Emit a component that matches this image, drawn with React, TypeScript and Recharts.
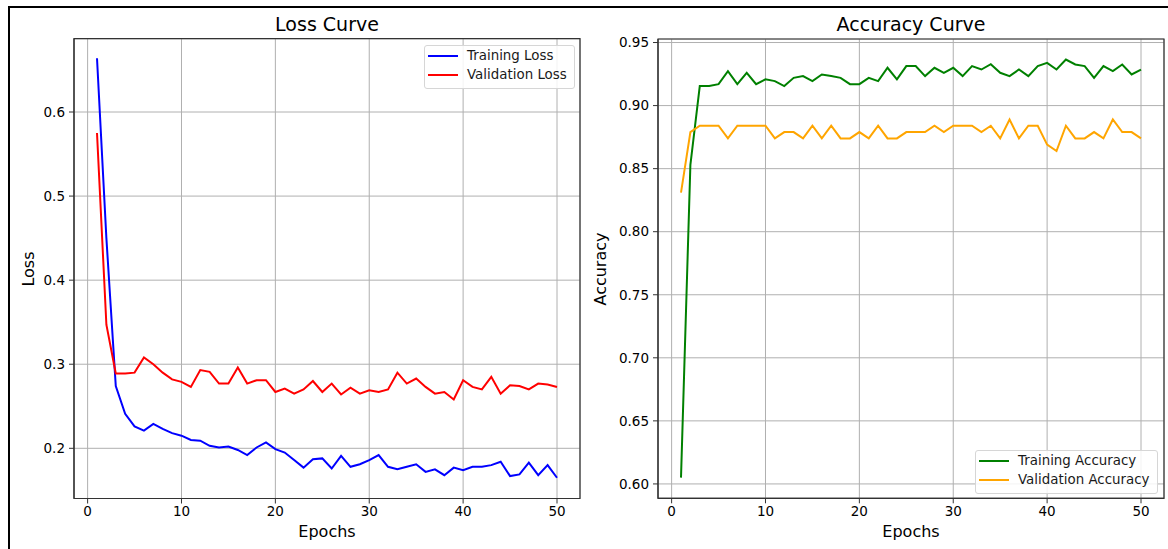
import React from 'react'
import { LineChart, Line, XAxis, YAxis, CartesianGrid, ReferenceArea, Legend } from 'recharts'

const epochs = Array.from({ length: 50 }, (_, i) => i + 1)

const trainLoss = [
  0.664, 0.45, 0.274, 0.241, 0.226, 0.221, 0.229, 0.223, 0.218, 0.215,
  0.21, 0.209, 0.203, 0.201, 0.202, 0.198, 0.192, 0.201, 0.207, 0.199,
  0.195, 0.186, 0.177, 0.187, 0.188, 0.176, 0.191, 0.178, 0.181, 0.186,
  0.192, 0.178, 0.175, 0.178, 0.181, 0.172, 0.175, 0.168, 0.177, 0.174,
  0.178, 0.178, 0.18, 0.184, 0.167, 0.169, 0.183, 0.168, 0.18, 0.165
]

const valLoss = [
  0.575, 0.347, 0.289, 0.289, 0.29, 0.308, 0.3, 0.29, 0.282, 0.279,
  0.273, 0.293, 0.291, 0.277, 0.277, 0.296, 0.277, 0.281, 0.281, 0.267,
  0.271, 0.265, 0.27, 0.28, 0.267, 0.277, 0.264, 0.272, 0.265, 0.269,
  0.267, 0.27, 0.29, 0.277, 0.283, 0.273, 0.265, 0.267, 0.258, 0.281,
  0.273, 0.27, 0.285, 0.265, 0.275, 0.274, 0.27, 0.277, 0.276, 0.273
]

const trainAcc = [
  0.605, 0.853, 0.9155, 0.9155, 0.917, 0.9273, 0.917, 0.926, 0.917, 0.9208,
  0.9194, 0.9155, 0.922, 0.9234, 0.9194, 0.9247, 0.9234, 0.922, 0.917, 0.917,
  0.922, 0.9194, 0.93, 0.9208, 0.9313, 0.9313, 0.9234, 0.93, 0.926, 0.93,
  0.9234, 0.9313, 0.9286, 0.9328, 0.926, 0.9234, 0.9286, 0.9234, 0.9313, 0.9339,
  0.9286, 0.9365, 0.9326, 0.9313, 0.922, 0.9313, 0.9273, 0.9326, 0.9247, 0.9286
]

const valAcc = [
  0.831, 0.879, 0.884, 0.884, 0.884, 0.874, 0.884, 0.884, 0.884, 0.884,
  0.874, 0.879, 0.879, 0.874, 0.884, 0.874, 0.884, 0.874, 0.874, 0.879,
  0.874, 0.884, 0.874, 0.874, 0.879, 0.879, 0.879, 0.884, 0.879, 0.884,
  0.884, 0.884, 0.879, 0.884, 0.874, 0.889, 0.874, 0.884, 0.884, 0.869,
  0.864, 0.884, 0.874, 0.874, 0.879, 0.874, 0.889, 0.879, 0.879, 0.874
]

const xTicks = [0, 10, 20, 30, 40, 50]
const lossTicks = [0.2, 0.3, 0.4, 0.5, 0.6]
const accTicks = [0.6, 0.65, 0.7, 0.75, 0.8, 0.85, 0.9, 0.95]

const lossData = epochs.map((e, i) => ({ epoch: e, train: trainLoss[i], val: valLoss[i] }))
const accData = epochs.map((e, i) => ({ epoch: e, train: trainAcc[i], val: valAcc[i] }))

const FONT = '"DejaVu Sans", sans-serif'
const X_DOMAIN: [number, number] = [-1.45, 52.45]
const tickStyle = { fontSize: 13.5, fill: '#000', fontFamily: FONT }

function MplLegend({ items }: { items: { label: string; color: string }[] }) {
  return (
    <div style={{
      border: '1px solid #d6d6d6', borderRadius: 3, background: 'rgba(255,255,255,0.85)',
      padding: '0px 7px 4px 3px', fontFamily: FONT, fontSize: 13.4, color: '#1a1a1a'
    }}>
      {items.map((it) => (
        <div key={it.label} style={{ display: 'flex', alignItems: 'center', height: 19 }}>
          <div style={{ width: 30, height: 2, background: it.color, marginRight: 9 }} />
          <span style={{ whiteSpace: 'nowrap' }}>{it.label}</span>
        </div>
      ))}
    </div>
  )
}

function Text({ x, y, size, rotate, children }: { x: number; y: number; size: number; rotate?: boolean; children: React.ReactNode }) {
  return (
    <div style={{
      position: 'absolute', left: x, top: y, fontFamily: FONT, fontSize: size, color: '#000',
      whiteSpace: 'nowrap', lineHeight: 1,
      transform: `translate(-50%, -50%)${rotate ? ' rotate(-90deg)' : ''}`
    }}>{children}</div>
  )
}

export default function App() {
  return (
    <div style={{ position: 'absolute', left: 0, top: 0, width: 1168, height: 549, overflow: 'hidden', background: '#fff' }}>
      <div style={{ position: 'absolute', left: 8, top: 6, width: 1300, height: 700, borderLeft: '2px solid #000', borderTop: '2px solid #000' }} />

      <div style={{ position: 'absolute', left: 0, top: 0 }}>
        <LineChart width={600} height={549} data={lossData} margin={{ top: 38.7, right: 20, bottom: 20.5, left: 24 }}>
          <CartesianGrid stroke="#b0b0b0" strokeWidth={1} />
          <XAxis dataKey="epoch" type="number" domain={X_DOMAIN} ticks={xTicks} allowDataOverflow
            height={30} tickSize={5} tickMargin={3} tick={tickStyle} stroke="#333" />
          <YAxis type="number" domain={[0.1403, 0.6872]} ticks={lossTicks} allowDataOverflow
            width={50} tickSize={5} tickMargin={4} tick={tickStyle} stroke="#333"
            tickFormatter={(v: number) => v.toFixed(1)} />
          <ReferenceArea x1={X_DOMAIN[0]} x2={X_DOMAIN[1]} y1={0.1403} y2={0.6872} fill="none" stroke="#333" strokeWidth={1.2} ifOverflow="visible" />
          <Line type="linear" dataKey="train" stroke="#0000ff" strokeWidth={2} dot={false} isAnimationActive={false} />
          <Line type="linear" dataKey="val" stroke="#ff0000" strokeWidth={2} dot={false} isAnimationActive={false} />
          <Legend layout="horizontal" verticalAlign="middle" align="center"
            wrapperStyle={{ left: 424, top: 45, width: 'auto' }}
            content={() => <MplLegend items={[{ label: 'Training Loss', color: '#0000ff' }, { label: 'Validation Loss', color: '#ff0000' }]} />} />
        </LineChart>
      </div>

      <div style={{ position: 'absolute', left: 590, top: 0 }}>
        <LineChart width={578} height={549} data={accData} margin={{ top: 39, right: 4, bottom: 20.7, left: 18 }}>
          <CartesianGrid stroke="#b0b0b0" strokeWidth={1} />
          <XAxis dataKey="epoch" type="number" domain={X_DOMAIN} ticks={xTicks} allowDataOverflow
            height={30} tickSize={5} tickMargin={3} tick={tickStyle} stroke="#333" />
          <YAxis type="number" domain={[0.5886, 0.9528]} ticks={accTicks} allowDataOverflow
            width={50} tickSize={5} tickMargin={4} tick={tickStyle} stroke="#333"
            tickFormatter={(v: number) => v.toFixed(2)} />
          <ReferenceArea x1={X_DOMAIN[0]} x2={X_DOMAIN[1]} y1={0.5886} y2={0.9528} fill="none" stroke="#333" strokeWidth={1.2} ifOverflow="visible" />
          <Line type="linear" dataKey="train" stroke="#008000" strokeWidth={2} dot={false} isAnimationActive={false} />
          <Line type="linear" dataKey="val" stroke="#ffa500" strokeWidth={2} dot={false} isAnimationActive={false} />
          <Legend layout="horizontal" verticalAlign="middle" align="center"
            wrapperStyle={{ left: 385, top: 450, width: 'auto' }}
            content={() => <MplLegend items={[{ label: 'Training Accuracy', color: '#008000' }, { label: 'Validation Accuracy', color: '#ffa500' }]} />} />
        </LineChart>
      </div>

      <Text x={327} y={24} size={19}>Loss Curve</Text>
      <Text x={911} y={24} size={19}>Accuracy Curve</Text>
      <Text x={327} y={532} size={16}>Epochs</Text>
      <Text x={911} y={532} size={16}>Epochs</Text>
      <Text x={29} y={268.6} size={16} rotate>Loss</Text>
      <Text x={601} y={268.6} size={16} rotate>Accuracy</Text>
    </div>
  )
}
